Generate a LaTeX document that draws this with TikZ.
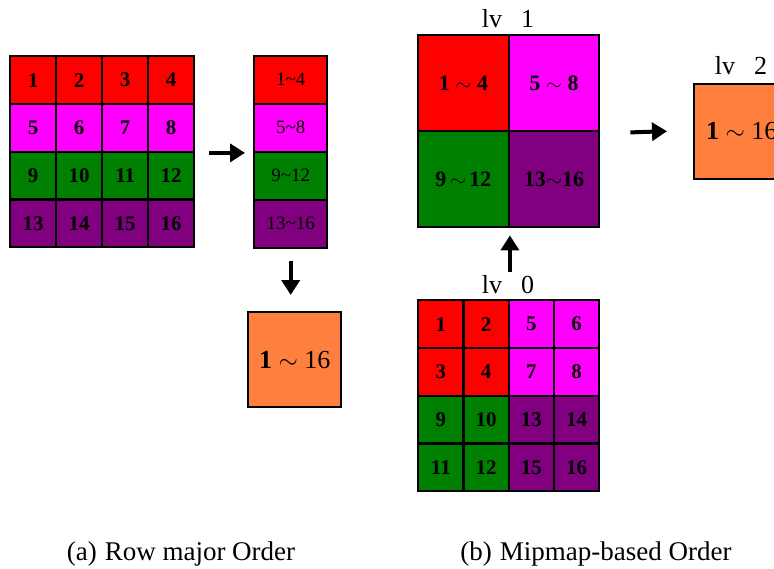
\documentclass[tikz,border=0pt]{standalone}
\usepackage{fontspec}
\setmainfont{Liberation Serif}
\usetikzlibrary{arrows.meta,calc}

\definecolor{tileRed}{RGB}{255,0,0}
\definecolor{tileMag}{RGB}{255,0,255}
\definecolor{tileGreen}{RGB}{0,128,0}
\definecolor{tilePurple}{RGB}{128,0,128}
\definecolor{tileOrange}{RGB}{255,127,63}

\begin{document}
\begin{tikzpicture}[x=1pt, y=-1pt]
            \tikzset{
                tile/.style={draw=black, line width=2.4pt, inner sep=0pt,
                    anchor=north west,
                    font=\fontsize{21}{21}\selectfont\bfseries},
                strip/.style={tile, font=\fontsize{19}{19}\selectfont},
                quad/.style={tile, font=\fontsize{22}{22}\selectfont\bfseries},
                whole/.style={tile, fill=tileOrange,
                    minimum width=95pt, minimum height=95pt,
                    font=\fontsize{26}{26}\selectfont},
                bigarrow/.style={line width=4pt,
                    -{Triangle[length=15pt,width=18pt]}},
                lvlabel/.style={font=\fontsize{26}{26}\selectfont, anchor=base},
                subcap/.style={font=\fontsize{27}{27}\selectfont, anchor=base}
            }
            \useasboundingbox (0,0) rectangle (774,568);
            \clip (0,0) rectangle (774,568);

            % (a) row major: 4x4 tiles, one colour per row
            \foreach \col [count=\r] in {tileRed,tileMag,tileGreen,tilePurple} {
                \foreach \c in {1,...,4} {
                    \pgfmathtruncatemacro{\n}{4*(\r-1)+\c}
                    \node[tile, fill=\col, minimum width=46pt, minimum height=47.75pt]
                        (rm-\r-\c) at ({9+46*(\c-1)}, {55+47.75*(\r-1)}) {\n};
                }
            }

            % rows merged into strips
            \foreach \col/\txt [count=\r] in {tileRed/1\textasciitilde4,
                    tileMag/5\textasciitilde8, tileGreen/9\textasciitilde12,
                    tilePurple/13\textasciitilde16} {
                \node[strip, fill=\col, minimum width=73pt, minimum height=48pt]
                    (rs-\r) at (253, {54.5+48*(\r-1)}) {\txt};
            }

            \node[whole, minimum width=93pt] (all-a) at (247,311)
                {\textbf{1} $\sim$ 16};

            \draw[bigarrow] ([xshift=14pt]rm-2-4.south east)
                -- ([xshift=-8pt]rs-2.south west);
            \draw[bigarrow] ([yshift=-12pt]rs-4.south)
                -- ($(rs-4.south |- all-a.north)+(0,-16)$);

            % (b) mipmap levels
            \foreach \col/\txt [count=\i] in {tileRed/{1 $\sim$ 4},
                    tileMag/{5 $\sim$ 8}, tileGreen/{9$\,\sim\,$12},
                    tilePurple/{13$\sim$16}} {
                \pgfmathtruncatemacro{\r}{int((\i-1)/2)+1}
                \pgfmathtruncatemacro{\c}{mod(\i-1,2)+1}
                \node[quad, fill=\col, minimum width=90.5pt, minimum height=96pt]
                    (q-\r-\c) at ({417+90.5*(\c-1)}, {34+96*(\r-1)}) {\txt};
            }

            \foreach \col/\n [count=\i from 0] in {tileRed/1, tileRed/2, tileMag/5, tileMag/6,
                    tileRed/3, tileRed/4, tileMag/7, tileMag/8,
                    tileGreen/9, tileGreen/10, tilePurple/13, tilePurple/14,
                    tileGreen/11, tileGreen/12, tilePurple/15, tilePurple/16} {
                \pgfmathtruncatemacro{\r}{int(\i/4)+1}
                \pgfmathtruncatemacro{\c}{mod(\i,4)+1}
                \node[tile, fill=\col, minimum width=45.25pt, minimum height=47.75pt]
                    (mm-\r-\c) at ({417+45.25*(\c-1)}, {299+47.75*(\r-1)}) {\n};
            }

            \node[whole] (lv2) at (693,82.5) {\textbf{1} $\sim$ 16};

            \node[lvlabel] (lab-lv0) at (508,293) {lv\hspace{19pt}0};
            \node[lvlabel] (lab-lv1) at (508,27) {lv\hspace{19pt}1};
            \node[lvlabel] (lab-lv2) at (741,74) {lv\hspace{19pt}2};

            \draw[bigarrow] ([yshift=27pt]mm-1-2.north east)
                -- ([yshift=-7pt]q-2-1.south east);
            \draw[bigarrow] ([xshift=30pt]q-1-2.south east)
                -- ([xshift=-26pt]lv2.west);

            \node[subcap] (cap-a) at (181,560) {(a)\hspace{8pt}Row major Order};
            \node[subcap] (cap-b) at (596,560) {(b)\hspace{8pt}Mipmap-based Order};
        \end{tikzpicture}
\end{document}
